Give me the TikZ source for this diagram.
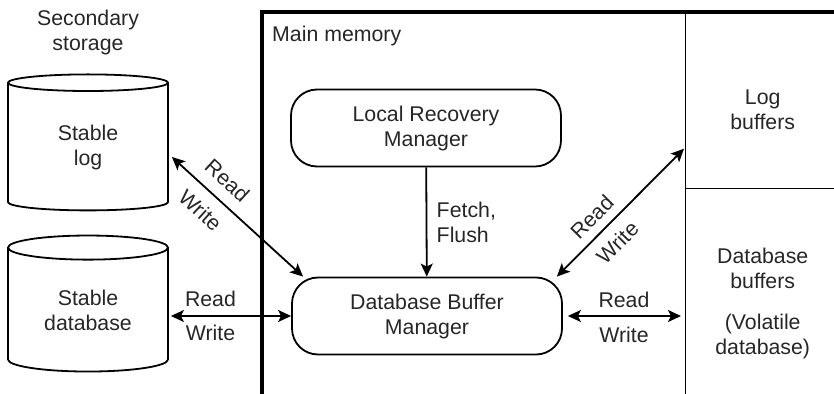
\documentclass[tikz,border=0pt]{standalone}
\usepackage{fontspec}
\setmainfont{Liberation Sans}
\usepackage{tikz}
\usetikzlibrary{shapes.geometric, arrows.meta, positioning}

\begin{document}
\begin{tikzpicture}[x=1pt, y=-1pt, line width=1.8pt,
    font=\fontsize{21.3}{25}\selectfont, text=black!85,
    mgr/.style={draw, rounded corners=26pt, align=center, minimum width=270pt, minimum height=77pt},
    disk/.style={draw, cylinder, shape border rotate=90, aspect=0.275, align=center,
                 minimum width=160pt, minimum height=136pt, inner sep=0pt},
    region/.style={draw, line width=1.4pt, minimum width=154pt, anchor=north west, inner sep=0pt},
    rw/.style={{Stealth[length=13pt, width=12pt, inset=3pt]}-{Stealth[length=13pt, width=12pt, inset=3pt]}}]
        \useasboundingbox (0,0) rectangle (834,393);

        % main memory frame
        \draw[line width=4pt] (262,400) -- (262,12) -- (840,12);
        \node[anchor=west] (mm) at (268,36) {Main memory};

        \node[region, minimum height=176pt, label={[align=center, yshift=-9pt]center:Log\\buffers}]
          (logbuf) at (685,12) {};
        \node[region, minimum height=220pt,
              label={[align=center, yshift=-5pt]center:Database\\buffers\\[16pt](Volatile\\database)}]
          (dbbuf) at (685,188) {};

        % managers
        \node[mgr] (lrm) at (426,128) {Local Recovery\\Manager};
        \node[mgr] (dbm) at (427,316) {Database Buffer\\Manager};

        % secondary storage
        \node[align=center] (sec) at (88,32) {Secondary\\storage};
        \node[disk] (slog) at (88,147) {Stable\\log};
        \node[disk] (sdb) at (88,310) {Stable\\database};

        \draw[-{Stealth[length=13pt, width=12pt, inset=3pt]}] (lrm) -- (dbm)
          node[midway, right=6pt, align=left] (ff) {Fetch,\\Flush};

        \draw[rw] ([shift={(3pt,-10pt)}]slog.east) -- ([xshift=12pt]dbm.north west)
          node[pos=0.32, above=8pt, sloped] (r1) {Read}
          node[pos=0.32, below=8pt, sloped] (w1) {Write};
        \draw[rw, shorten <=2pt] (sdb.east |- dbm.west) -- (dbm.west)
          node[pos=0.34, above=5pt] (r2) {Read}
          node[pos=0.34, below=5pt] (w2) {Write};
        \draw[rw] ([xshift=-6pt]dbm.north east) -- ([shift={(-1pt,-48pt)}]logbuf.west)
          node[pos=0.37, above=5pt, sloped] (r3) {Read}
          node[pos=0.37, below=7pt, sloped] (w3) {Write};
        \draw[rw, shorten <=5pt, shorten >=4pt] (dbm.east) -- (dbm.east -| dbbuf.west)
          node[midway, above=4pt] (r4) {Read}
          node[midway, below=7pt] (w4) {Write};
\end{tikzpicture}
\end{document}
